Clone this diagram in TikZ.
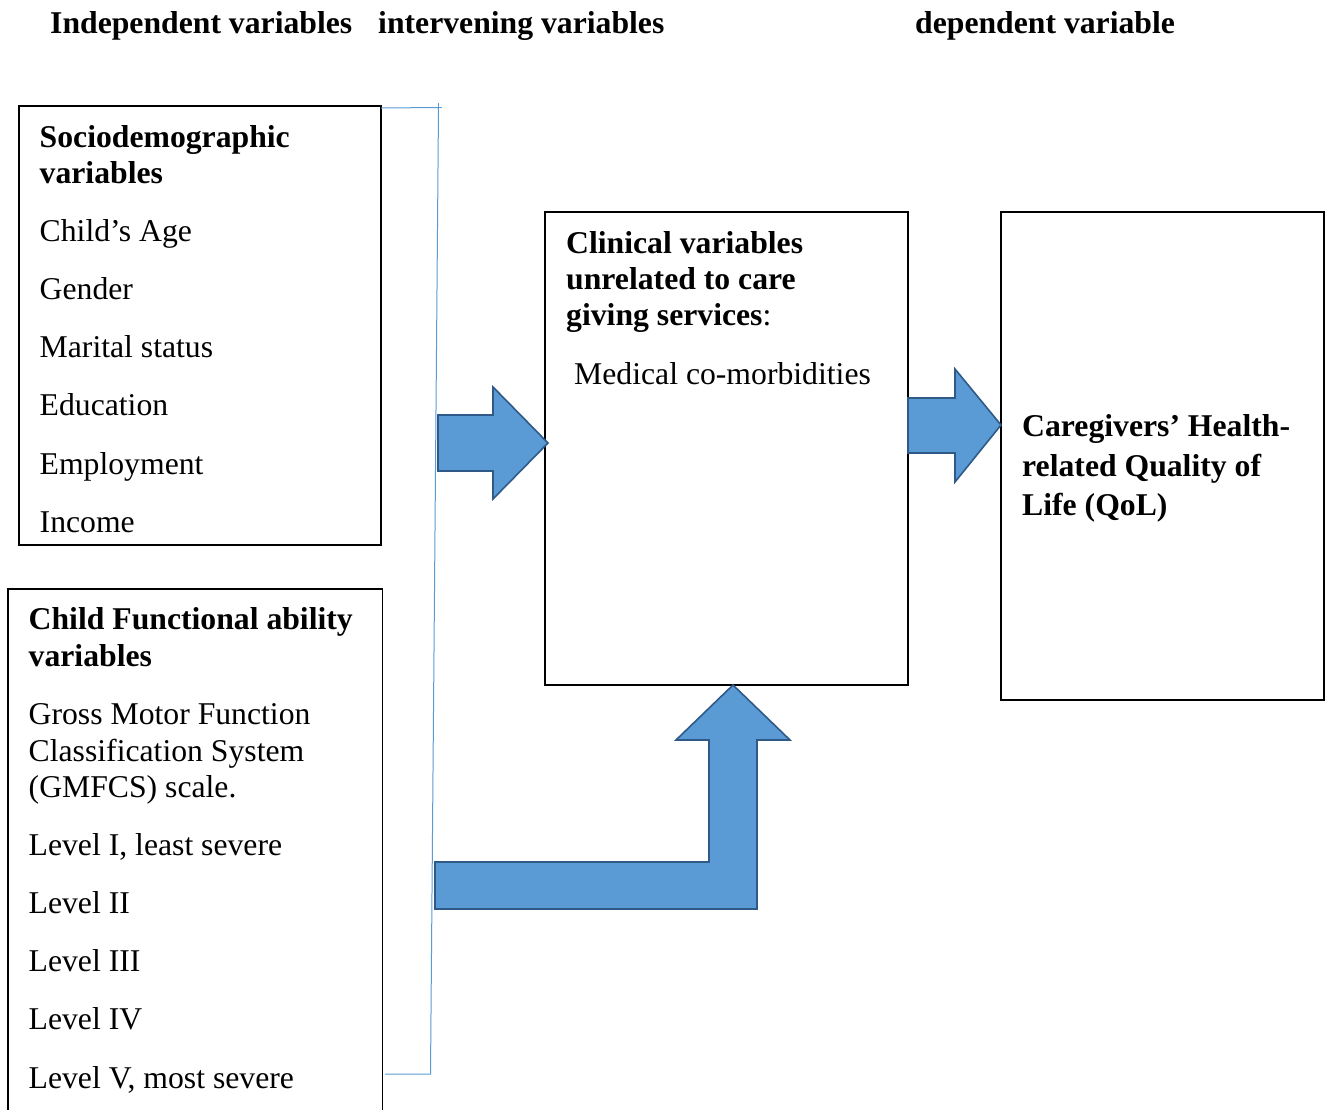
\documentclass[tikz,border=0pt]{standalone}
\usepackage{fontspec}
\setmainfont{Liberation Serif}
\definecolor{arrfill}{HTML}{5B9BD5}
\definecolor{arrline}{HTML}{2F5A88}
\definecolor{brk}{HTML}{5B9BD5}
\begin{document}
\begin{tikzpicture}[x=1pt,y=-1pt,
  txt/.style={anchor=base west,inner sep=0pt,font=\fontsize{31.7}{36.5}\selectfont},
  btxt/.style={txt,font=\fontsize{31.7}{36.5}\selectfont\bfseries},
  varbox/.style={draw=black,line width=1.5pt,fill=none},
  blockarrow/.style={fill=arrfill,draw=arrline,line width=1.6pt,line join=miter},
  bracketline/.style={draw=brk,line width=1pt}]
\clip (0,0) rectangle (1325,1109);
\fill[white] (0,0) rectangle (1325,1109);

% headers
\node[btxt] (h1) at (50,33) {Independent variables};
\node[btxt] (h2) at (378,33) {intervening variables};
\node[btxt] (h3) at (915,33) {dependent variable};

% boxes
\draw[varbox] (19,106) rectangle (381,545);
\coordinate (socioNE) at (381,108);
\draw[varbox] (8,589) rectangle (382.5,1130);
\draw[varbox] (545,212) rectangle (908,685);
\draw[varbox] (1001,212) rectangle (1324,700);

% socio text
\node[btxt] (s1) at (39.5,147) {Sociodemographic};
\node[btxt] (s2) at (39.5,183) {variables};
\node[txt] (s3) at (39.5,241) {Child’s Age};
\node[txt] (s4) at (39.5,299) {Gender};
\node[txt] (s5) at (39.5,357) {Marital status};
\node[txt] (s6) at (39.5,415) {Education};
\node[txt] (s7) at (39.5,474) {Employment};
\node[txt] (s8) at (39.5,532) {Income};

% child text
\node[btxt] (c1) at (28.5,629) {Child Functional ability};
\node[btxt] (c2) at (28.5,666) {variables};
\node[txt] (c3) at (28.5,724) {Gross Motor Function};
\node[txt] (c4) at (28.5,761) {Classification System};
\node[txt] (c5) at (28.5,797) {(GMFCS) scale.};
\node[txt] (c6) at (28.5,855) {Level I, least severe};
\node[txt] (c7) at (28.5,913) {Level II};
\node[txt] (c8) at (28.5,971) {Level III};
\node[txt] (c9) at (28.5,1029) {Level IV};
\node[txt] (c10) at (28.5,1088) {Level V, most severe};

% clinical text
\node[btxt] (k1) at (566,253) {Clinical variables};
\node[btxt] (k2) at (566,289) {unrelated to care};
\node[btxt] (k3) at (566,325) {giving services\mdseries:};
\node[txt] (k4) at (574,384) {Medical co-morbidities};

% QoL text
\node[btxt] (q1) at (1022,436) {Caregivers’ Health-};
\node[btxt] (q2) at (1022,476) {related Quality of};
\node[btxt] (q3) at (1022,515) {Life (QoL)};

% bracket line
\draw[bracketline] (socioNE) -- (438.5,107.5) -- (430.5,1074) -- (385,1074);
\draw[bracketline] (438.5,103) -- (438.5,108);
\draw[bracketline] (434,107.5) -- (442,107.5);

% arrows
\draw[blockarrow] (438,415) -- (493,415) -- (493,387) -- (548,443) -- (493,499) -- (493,471) -- (438,471) -- cycle;
\draw[blockarrow] (908,398) -- (955,398) -- (955,369) -- (1001,425) -- (955,482) -- (955,453) -- (908,453) -- cycle;
\draw[blockarrow] (435,862) -- (709,862) -- (709,740) -- (676,740) -- (733,685) -- (790,740) -- (757,740) -- (757,909) -- (435,909) -- cycle;
\end{tikzpicture}
\end{document}
